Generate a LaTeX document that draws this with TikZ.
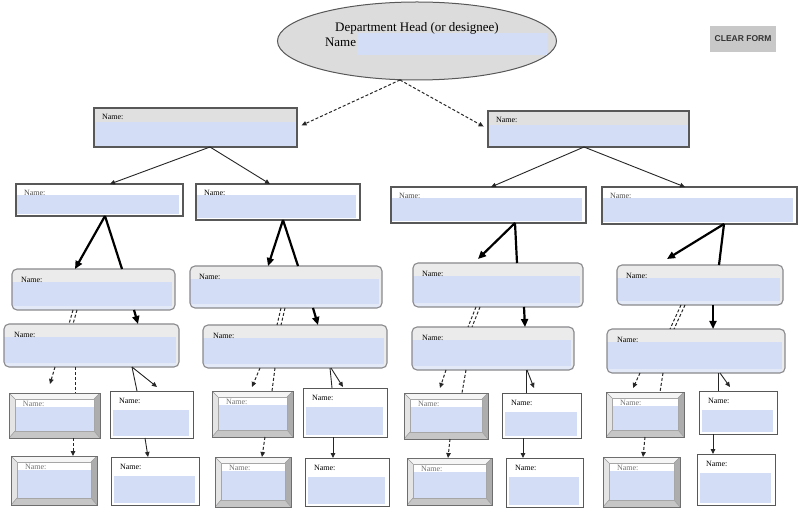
\documentclass[tikz,border=0pt]{standalone}
\usepackage{fontspec}
\setmainfont{Liberation Serif}
\newfontfamily\sansbold{Liberation Sans}
\usetikzlibrary{arrows.meta,shapes.geometric}

\definecolor{bd}{HTML}{585858}
\definecolor{bdb}{HTML}{6E6E6E}
\definecolor{bdr}{HTML}{8A8A8E}
\definecolor{blueband}{HTML}{D4DDF6}
\definecolor{bluelite}{HTML}{E4E9F8}
\definecolor{grayband}{HTML}{E0E0E0}
\definecolor{lgray}{HTML}{EBEBEB}
\definecolor{ellfill}{HTML}{DCDCDC}
\definecolor{btn}{HTML}{C8C8C8}
\definecolor{bvtop}{HTML}{F5F5F5}
\definecolor{bvleft}{HTML}{E4E4E4}
\definecolor{bvright}{HTML}{ADADAD}
\definecolor{bvbot}{HTML}{C6C6C6}

\newcommand\mkbox[9]{%
  \node[#1, minimum width={(#5-#3)*1pt}, minimum height={(#6-#4)*1pt}] (#2) at ({(#3+#5)/2},{(#4+#6)/2}) {};
  \node[nmtxt, text=#9] (#2t) at ([shift={(#7pt,-#8pt)}]#2.north west) {Name:};}

\tikzset{
  nmtxt/.style={font=\fontsize{8}{9}\selectfont, anchor=north west},
  lvone/.style={draw=bd, line width=1.1pt, fill=grayband,
    path picture={\fill[blueband] ([yshift=-14pt]path picture bounding box.north west) rectangle ([xshift=-2pt]path picture bounding box.south east);}},
  lvtwo/.style={draw=bd, line width=1.1pt, fill=white,
    path picture={\fill[blueband] ([shift={(1pt,-11pt)}]path picture bounding box.north west) rectangle ([shift={(-4pt,2pt)}]path picture bounding box.south east);}},
  rnd/.style={draw=bdr, line width=1.1pt, rounded corners=5pt, fill=lgray,
    path picture={\fill[blueband, sharp corners] ([yshift=-13pt]path picture bounding box.north west) rectangle ([shift={(-3pt,4pt)}]path picture bounding box.south east);
      \fill[bluelite, sharp corners] ([yshift=4pt]path picture bounding box.south west) rectangle ([xshift=-3pt]path picture bounding box.south east);}},
  bev/.style={draw=bdb, line width=1pt, fill=white,
    path picture={
      \fill[bvtop] (path picture bounding box.north west) -- (path picture bounding box.north east) -- ([shift={(-6pt,-6pt)}]path picture bounding box.north east) -- ([shift={(6pt,-6pt)}]path picture bounding box.north west) -- cycle;
      \fill[bvleft] (path picture bounding box.north west) -- ([shift={(6pt,-6pt)}]path picture bounding box.north west) -- ([shift={(6pt,7pt)}]path picture bounding box.south west) -- (path picture bounding box.south west) -- cycle;
      \fill[bvright] (path picture bounding box.north east) -- ([shift={(-6pt,-6pt)}]path picture bounding box.north east) -- ([shift={(-6pt,7pt)}]path picture bounding box.south east) -- (path picture bounding box.south east) -- cycle;
      \fill[bvbot] (path picture bounding box.south west) -- ([shift={(6pt,7pt)}]path picture bounding box.south west) -- ([shift={(-6pt,7pt)}]path picture bounding box.south east) -- (path picture bounding box.south east) -- cycle;
      \fill[blueband] ([shift={(6pt,-14pt)}]path picture bounding box.north west) rectangle ([shift={(-6pt,7pt)}]path picture bounding box.south east);
      \draw[black!40, line width=0.5pt] (path picture bounding box.north west) -- ([shift={(6pt,-6pt)}]path picture bounding box.north west)
        (path picture bounding box.north east) -- ([shift={(-6pt,-6pt)}]path picture bounding box.north east)
        (path picture bounding box.south west) -- ([shift={(6pt,7pt)}]path picture bounding box.south west)
        (path picture bounding box.south east) -- ([shift={(-6pt,7pt)}]path picture bounding box.south east);
      \draw[black!35, line width=0.5pt] ([shift={(6pt,-6pt)}]path picture bounding box.north west) rectangle ([shift={(-6pt,7pt)}]path picture bounding box.south east);}},
  plainbx/.style={draw=bd, line width=1pt, fill=white,
    path picture={\fill[blueband] ([shift={(3pt,-19pt)}]path picture bounding box.north west) rectangle ([shift={(-4pt,2pt)}]path picture bounding box.south east);}},
  thinarr/.style={draw=black!85, line width=0.9pt, -{Triangle[length=5pt,width=4.5pt]}},
  thinln/.style={draw=black!85, line width=0.9pt},
  thickarr/.style={draw=black, line width=2.2pt, -{Triangle[length=8pt,width=7pt]}},
  thickln/.style={draw=black, line width=2.2pt},
  dasharr/.style={draw=black!85, line width=1pt, dash pattern=on 3pt off 2pt, -{Triangle[length=5pt,width=4.5pt]}},
  dashln/.style={draw=black!85, line width=1pt, dash pattern=on 3pt off 2pt},
}

\begin{document}
\begin{tikzpicture}[x=1pt, y=-1pt, every node/.style={inner sep=0pt, outer sep=0pt}]
\useasboundingbox (0,0) rectangle (800,510);
\fill[white] (0,0) rectangle (800,510);

% head
\node[ellipse, draw=bd, line width=1pt, fill=ellfill, minimum width=279pt, minimum height=78pt] (E) at (417,41) {};
\fill[blueband] (357,33) rectangle (547,55);
\node[font=\fontsize{13}{15}\selectfont, anchor=base] (Etitle) at (417,32) {Department Head (or designee)};
\node[font=\fontsize{13}{15}\selectfont, anchor=base west] (Ename) at (325,47) {Name};

\node[fill=btn, minimum width=66pt, minimum height=26pt, text=black!80,
  font=\sansbold\bfseries\fontsize{8.5}{10}\selectfont] (clr) at (743,39) {CLEAR FORM};

% level 1
\mkbox{lvone}{La}{94}{108}{297}{147}{8}{6}{black}
\mkbox{lvone}{Lb}{488}{111}{689}{147}{8}{6}{black}

% row 2
\mkbox{lvtwo}{A2}{16}{184}{183}{216}{8}{6}{black!70}
\mkbox{lvtwo}{B2}{196}{184}{360}{220}{8}{6}{black}
\mkbox{lvtwo}{C2}{391}{187}{586}{223}{8}{6}{black!70}
\mkbox{lvtwo}{D2}{602}{187}{797}{224}{8}{6}{black!70}

% row 3
\mkbox{rnd}{A3}{12}{269}{175}{310}{9}{8}{black}
\mkbox{rnd}{B3}{190}{266}{382}{308}{9}{8}{black}
\mkbox{rnd}{C3}{413}{263}{583}{307}{9}{8}{black}
\mkbox{rnd}{D3}{617}{265}{783}{305}{9}{8}{black}

% row 4
\mkbox{rnd}{A4}{4}{324}{179}{367}{10}{8}{black}
\mkbox{rnd}{B4}{203}{325}{387}{368}{10}{8}{black}
\mkbox{rnd}{C4}{412}{327}{574}{370}{10}{8}{black}
\mkbox{rnd}{D4}{607}{329}{785}{373}{10}{8}{black}

% row 5
\mkbox{bev}{A5b}{9}{393}{100}{438}{14}{8}{black!55}
\mkbox{plainbx}{A5p}{110}{391}{193}{438}{9}{7}{black}
\mkbox{bev}{B5b}{212}{391}{293}{437}{14}{8}{black!55}
\mkbox{plainbx}{B5p}{303}{388}{387}{437}{9}{7}{black}
\mkbox{bev}{C5b}{404}{393}{488}{439}{14}{8}{black!55}
\mkbox{plainbx}{C5p}{502}{393}{581}{438}{9}{7}{black}
\mkbox{bev}{D5b}{606}{392}{684}{437}{14}{8}{black!55}
\mkbox{plainbx}{D5p}{699}{391}{777}{434}{9}{7}{black}

% row 6
\mkbox{bev}{A6b}{11}{456}{97}{505}{14}{8}{black!55}
\mkbox{plainbx}{A6p}{111}{457}{199}{505}{9}{7}{black}
\mkbox{bev}{B6b}{215}{457}{291}{507}{14}{8}{black!55}
\mkbox{plainbx}{B6p}{305}{458}{389}{506}{9}{7}{black}
\mkbox{bev}{C6b}{407}{458}{492}{505}{14}{8}{black!55}
\mkbox{plainbx}{C6p}{506}{458}{583}{507}{9}{7}{black}
\mkbox{bev}{D6b}{603}{457}{680}{507}{14}{8}{black!55}
\mkbox{plainbx}{D6p}{697}{454}{775}{505}{9}{7}{black}

% free arrow ends
\coordinate (tA1) at (50,384);
\coordinate (tA2) at (157,387);
\coordinate (tB1) at (252,387);
\coordinate (tB2) at (343,387);
\coordinate (tC0) at (478,259);
\coordinate (tC1) at (440,388);
\coordinate (tC2) at (534,388);
\coordinate (tD0) at (667,259);
\coordinate (tD1) at (633,388);
\coordinate (tD2) at (730,387);

% head to level 1
\draw[dasharr, shorten >=5pt] (E.south -| 400,0) -- (La.east);
\draw[dasharr, shorten >=5pt] (E.south -| 400,0) -- (Lb.west);

% level 1 to row 2
\draw[thinarr] (La.south -| 210,0) -- (A2.north -| 110,0);
\draw[thinarr] (La.south -| 210,0) -- (B2.north -| 270,0);
\draw[thinarr] (Lb.south -| 584,0) -- (C2.north -| 491,0);
\draw[thinarr] (Lb.south -| 584,0) -- (D2.north -| 685,0);

% column A
\draw[thickarr] (A2.south -| 105,0) -- (A3.north -| 75,0);
\draw[thickln] (A2.south -| 105,0) -- (A3.north -| 122,0);
\draw[dashln] (A3.south -| 73,0) -- (A4.north -| 69,0);
\draw[dashln] (A3.south -| 77,0) -- (A4.north -| 73,0);
\draw[thickarr] (A3.south -| 134,0) -- (A4.north -| 138,0);
\draw[dasharr] (A4.south -| 55,0) -- (tA1);
\draw[dashln] (A4.south -| 75,0) -- (A5b.north -| 75,0);
\draw[thinln] (A4.south -| 132,0) -- (A5p.north -| 137,0);
\draw[thinarr] (A4.south -| 132,0) -- (tA2);
\draw[dasharr] (A5b.south -| 73,0) -- (A6b.north -| 73,0);
\draw[thinarr] (A5p.south -| 145,0) -- (A6p.north -| 148,0);

% column B
\draw[thickarr] (B2.south -| 283,0) -- (B3.north -| 268,0);
\draw[thickln] (B2.south -| 283,0) -- (B3.north -| 298,0);
\draw[dashln] (B3.south -| 281,0) -- (B4.north -| 277,0);
\draw[dashln] (B3.south -| 285,0) -- (B4.north -| 281,0);
\draw[thickarr] (B3.south -| 313,0) -- (B4.north -| 318,0);
\draw[dasharr] (B4.south -| 260,0) -- (tB1);
\draw[dashln] (B4.south -| 275,0) -- (B5b.north -| 272,0);
\draw[thinln] (B4.south -| 330,0) -- (B5p.north -| 332,0);
\draw[thinarr] (B4.south -| 331,0) -- (tB2);
\draw[dasharr] (B5b.south -| 265,0) -- (B6b.north -| 262,0);
\draw[thinarr] (B5p.south -| 333,0) -- (B6p.north -| 333,0);

% column C
\draw[thickarr] (C2.south -| 515,0) -- (tC0);
\draw[thickln] (C2.south -| 515,0) -- (C3.north -| 517,0);
\draw[dashln] (C3.south -| 476,0) -- (C4.north -| 468,0);
\draw[dashln] (C3.south -| 480,0) -- (C4.north -| 472,0);
\draw[thickarr] (C3.south -| 524,0) -- (C4.north -| 525,0);
\draw[dasharr] (C4.south -| 446,0) -- (tC1);
\draw[dashln] (C4.south -| 466,0) -- (C5b.north -| 462,0);
\draw[thinln] (C4.south -| 526,0) -- (C5p.north -| 526,0);
\draw[thinarr] (C4.south -| 527,0) -- (tC2);
\draw[dasharr] (C5b.south -| 450,0) -- (C6b.north -| 448,0);
\draw[thinarr] (C5p.south -| 523,0) -- (C6p.north -| 523,0);

% column D
\draw[thickarr] (D2.south -| 724,0) -- (tD0);
\draw[thickln] (D2.south -| 724,0) -- (D3.north -| 719,0);
\draw[dashln] (D3.south -| 681,0) -- (D4.north -| 670,0);
\draw[dashln] (D3.south -| 685,0) -- (D4.north -| 674,0);
\draw[thickarr] (D3.south -| 713,0) -- (D4.north -| 713,0);
\draw[dasharr] (D4.south -| 640,0) -- (tD1);
\draw[dashln] (D4.south -| 663,0) -- (D5b.north -| 660,0);
\draw[thinln] (D4.south -| 718,0) -- (D5p.north -| 718,0);
\draw[thinarr] (D4.south -| 720,0) -- (tD2);
\draw[dasharr] (D5b.south -| 645,0) -- (D6b.north -| 643,0);
\draw[thinarr] (D5p.south -| 713,0) -- (D6p.north -| 713,0);
\end{tikzpicture}
\end{document}
